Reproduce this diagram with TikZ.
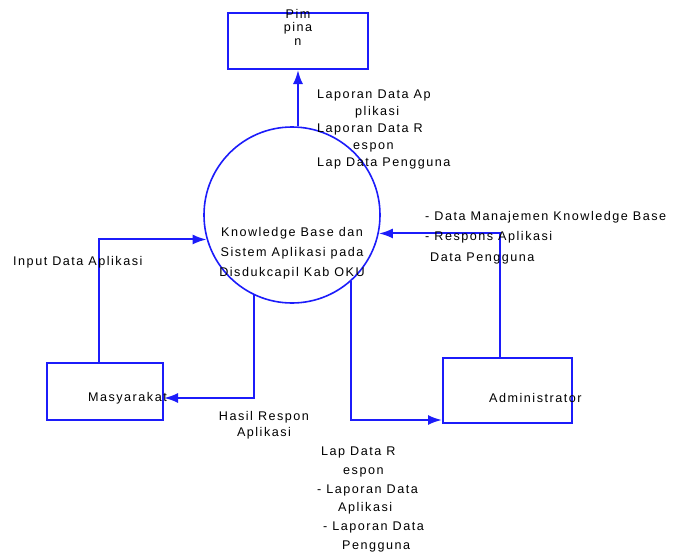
\documentclass[tikz,border=0pt]{standalone}
\usepackage{fontspec}
\setmainfont{Liberation Sans}[LetterSpace=12]
\usetikzlibrary{arrows.meta}
\definecolor{dfdblue}{RGB}{28,28,250}

\tikzset{
  flow/.style={draw=dfdblue, line width=2pt, -{Latex[length=14pt,width=10pt]}},
  entity/.style={draw=dfdblue, line width=2pt, rectangle, inner sep=0pt},
  proc/.style={draw=dfdblue, line width=1.6pt, circle, minimum size=176pt, inner sep=0pt},
  lbl/.style={inner sep=0pt, align=left, font=\fontsize{12.6}{18}\selectfont},
}

\begin{document}
\begin{tikzpicture}[x=1pt,y=-1pt]
\useasboundingbox (0,0) rectangle (675,554);

\node[entity, minimum width=140pt, minimum height=56pt] (pimp) at (298,41) {};
\node[lbl, align=center, anchor=north, font=\fontsize{12.6}{13.5}\selectfont] (pimpLbl) at (298,9) {Pim\\pina\\n};
\node[proc] (proses) at (292,215) {};
\node[lbl, align=center, font=\fontsize{12.6}{20}\selectfont] (prosesLbl) at (292,253) {Knowledge Base dan\\Sistem Aplikasi pada\\Disdukcapil Kab OKU};
\node[entity, minimum width=116pt, minimum height=57pt] (masy) at (105,391.5) {};
\node[lbl, anchor=east] (masyLbl) at (167,398) {Masyarakat};
\node[entity, minimum width=129pt, minimum height=65pt] (admin) at (507.5,390.5) {};
\node[lbl, anchor=west] (adminLbl) at (489,398) {Administrator};

\draw[flow] (proses.north -| pimp.south) -- (pimp.south);
\draw[flow] (masy.north -| 99,0) |- (proses.196);
\draw[flow] ([xshift=-8pt]admin.north) |- (proses.-12.5);
\draw[flow] (proses.245) |- ([yshift=-6.5pt]masy.east);
\draw[flow] (proses.-48) |- ([yshift=4pt]admin.south west);

\node[lbl, anchor=north west, font=\fontsize{12.6}{17}\selectfont] (lapAtas) at (317,90) {Laporan Data Ap\\\hspace*{38pt}plikasi\\Laporan Data R\\\hspace*{36pt}espon\\Lap Data Pengguna};
\node[lbl, anchor=north west, font=\fontsize{12.6}{20.5}\selectfont] (mgmt) at (425,211) {- Data Manajemen Knowledge Base\\- Respons Aplikasi\\\hspace*{5pt}Data Pengguna};
\node[lbl, anchor=west] (inputLbl) at (13,262) {Input Data Aplikasi};
\node[lbl, align=center, anchor=north, font=\fontsize{12.6}{16}\selectfont] (hasilLbl) at (264,411) {Hasil Respon\\Aplikasi};
\node[lbl, anchor=north west, font=\fontsize{12.6}{18.7}\selectfont] (lapBawah) at (317,447) {\hspace*{4pt}Lap Data R\\\hspace*{26pt}espon\\- Laporan Data\\\hspace*{21pt}Aplikasi\\\hspace*{6pt}- Laporan Data\\\hspace*{25pt}Pengguna};
\end{tikzpicture}
\end{document}
